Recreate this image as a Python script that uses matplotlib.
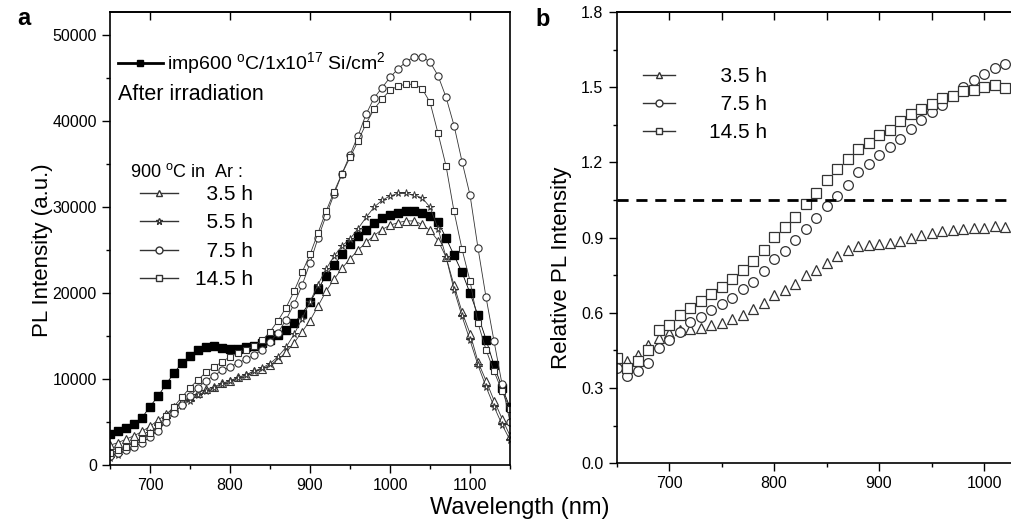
import numpy as np
import matplotlib
matplotlib.use("Agg")
import matplotlib.pyplot as plt
from matplotlib.lines import Line2D
from matplotlib.ticker import MultipleLocator, FormatStrFormatter

# ---------------- data (panel a) ----------------
wl_a = np.arange(650, 1151, 10)

imp600 = [3600, 3900, 4300, 4800, 5500, 6800, 8000, 9400, 10700, 11900,
          12700, 13400, 13750, 13850, 13650, 13550, 13550, 13700, 13800, 14200,
          14600, 15100, 15700, 16500, 17600, 19000, 20500, 22000, 23300, 24500,
          25700, 26600, 27400, 28200, 28700, 29100, 29350, 29550, 29550, 29350,
          29000, 28300, 26400, 24400, 22400, 20000, 17400, 14600, 11600, 9000, 6700]

h35 = [2300, 2600, 3000, 3400, 3900, 4500, 5200, 5900, 6700, 7400,
       7900, 8400, 8800, 9100, 9500, 9800, 10200, 10500, 10900, 11200,
       11600, 12300, 13100, 14200, 15500, 16800, 18500, 20200, 21600, 22900,
       24000, 25000, 25900, 26700, 27400, 27900, 28200, 28400, 28400, 28000,
       27300, 26100, 24200, 20900, 17800, 15300, 12000, 9800, 7500, 5400, 3400]

h55 = [800, 1200, 1700, 2300, 2900, 3700, 4500, 5300, 6100, 6900,
       7500, 8100, 8600, 9000, 9400, 9800, 10100, 10500, 10900, 11300,
       11800, 12600, 13700, 15200, 17000, 19000, 21000, 22800, 24300, 25500,
       26300, 27500, 28800, 30000, 30800, 31300, 31600, 31600, 31400, 31100,
       30000, 27500, 24200, 20400, 17300, 14500, 11600, 9100, 6800, 4700, 2900]

h75 = [1100, 1400, 1700, 2100, 2600, 3200, 4000, 5000, 6000, 7000,
       8000, 9000, 9800, 10400, 11000, 11400, 11900, 12300, 12800, 13400,
       14300, 15400, 16900, 18700, 20900, 23500, 26400, 29000, 31500, 33900,
       36100, 38300, 40800, 42700, 43900, 45100, 46100, 46900, 47500, 47500,
       46900, 45300, 42800, 39500, 35300, 31400, 25200, 19500, 14400, 9400, 5000]

h145 = [1400, 1700, 2100, 2600, 3000, 3700, 4600, 5700, 6800, 7900,
        9000, 9900, 10800, 11400, 12000, 12600, 13000, 13400, 13900, 14500,
        15500, 16800, 18300, 20200, 22400, 24500, 27000, 29500, 31800, 33900,
        35800, 37700, 39700, 41400, 42600, 43600, 44100, 44300, 44300, 43800,
        42200, 38600, 34800, 29500, 25100, 21400, 16500, 13400, 10900, 8600, 6500]

# ---------------- data (panel b) ----------------
wl_b = np.arange(650, 1021, 10)

rel35 = [0.40, 0.41, 0.43, 0.47, 0.50, 0.52, 0.53, 0.535, 0.54, 0.55,
         0.56, 0.575, 0.59, 0.615, 0.64, 0.67, 0.69, 0.715, 0.75, 0.77,
         0.80, 0.825, 0.85, 0.865, 0.87, 0.875, 0.877, 0.888, 0.90, 0.912,
         0.918, 0.925, 0.932, 0.935, 0.937, 0.94, 0.948, 0.942]

rel75 = [0.38, 0.35, 0.37, 0.40, 0.46, 0.49, 0.525, 0.565, 0.585, 0.61,
         0.635, 0.66, 0.695, 0.725, 0.765, 0.815, 0.845, 0.89, 0.935, 0.98,
         1.025, 1.067, 1.11, 1.16, 1.195, 1.23, 1.26, 1.295, 1.335, 1.37,
         1.40, 1.43, 1.465, 1.50, 1.528, 1.553, 1.575, 1.593]

rel145 = [0.42, 0.38, 0.41, 0.45, 0.53, 0.55, 0.59, 0.62, 0.646, 0.675,
          0.704, 0.735, 0.77, 0.806, 0.85, 0.904, 0.944, 0.984, 1.033, 1.08,
          1.13, 1.173, 1.213, 1.253, 1.277, 1.309, 1.33, 1.366, 1.393, 1.413,
          1.433, 1.456, 1.466, 1.486, 1.49, 1.50, 1.507, 1.496]

threshold = 1.05

# ---------------- style ----------------
plt.rcParams["font.family"] = ["Liberation Sans", "DejaVu Sans"]
plt.rcParams["mathtext.fontset"] = "custom"
plt.rcParams["mathtext.rm"] = "Liberation Sans"
plt.rcParams["axes.linewidth"] = 1.2
plt.rcParams["xtick.labelsize"] = 11.5
plt.rcParams["ytick.labelsize"] = 11.5

fig = plt.figure(figsize=(10.11, 5.26), dpi=100)
ax1 = fig.add_axes([0.1088, 0.116, 0.3957, 0.861])
ax2 = fig.add_axes([0.6098, 0.1192, 0.3932, 0.858])

ec = "#333333"

# panel a
ax1.plot(wl_a, imp600, color="black", lw=0.6, marker="s", ms=5.2, mfc="black", mec="black")
ax1.plot(wl_a, h35, color=ec, lw=0.6, marker="^", ms=5.2, mfc="white", mec=ec, mew=0.8)
ax1.plot(wl_a, h55, color=ec, lw=0.6, marker="*", ms=5.5, mfc="white", mec=ec, mew=0.7)
ax1.plot(wl_a, h75, color=ec, lw=0.6, marker="o", ms=5.2, mfc="white", mec=ec, mew=0.8)
ax1.plot(wl_a, h145, color=ec, lw=0.6, marker="s", ms=5.0, mfc="white", mec=ec, mew=0.8)

ax1.set_xlim(650, 1150)
ax1.set_ylim(0, 52700)
ax1.xaxis.set_major_locator(MultipleLocator(100))
ax1.xaxis.set_minor_locator(MultipleLocator(50))
ax1.yaxis.set_major_locator(MultipleLocator(10000))
ax1.yaxis.set_minor_locator(MultipleLocator(5000))
ax1.tick_params(which="major", direction="out", length=6, width=1)
ax1.tick_params(which="minor", direction="out", length=3, width=1)
top1 = ax1.secondary_xaxis("top")
top1.set_xticks([700, 800, 900, 1000, 1100])
top1.tick_params(direction="in", length=6, width=1, labeltop=False)

leg_imp = ax1.legend(handles=[Line2D([], [], color="black", lw=2, marker="s", ms=5)],
                     labels=["imp600 $^{\\rm o}$C/1x10$^{17}$ Si/cm$^{2}$"],
                     loc="upper left", bbox_to_anchor=(0.02, 0.915), frameon=False,
                     fontsize=14, handlelength=2.3, handletextpad=0.2,
                     borderpad=0, borderaxespad=0)
ax1.add_artist(leg_imp)
ax1.text(0.02, 0.817, "After irradiation", transform=ax1.transAxes,
         fontsize=15.5, va="center", ha="left")
ax1.text(0.05, 0.647, "900 $^{\\rm o}$C in  Ar :", transform=ax1.transAxes,
         fontsize=13, va="center", ha="left")

h_a = [Line2D([], [], color=ec, lw=1, marker="^", ms=5, mfc="white", mec=ec),
       Line2D([], [], color=ec, lw=1, marker="*", ms=5, mfc="white", mec=ec),
       Line2D([], [], color=ec, lw=1, marker="o", ms=5, mfc="white", mec=ec),
       Line2D([], [], color=ec, lw=1, marker="s", ms=5, mfc="white", mec=ec)]
ax1.legend(handles=h_a, labels=["  3.5 h", "  5.5 h", "  7.5 h", "14.5 h"],
           loc="upper left", bbox_to_anchor=(0.075, 0.618), frameon=False,
           fontsize=15, handlelength=1.8, handletextpad=0.85, labelspacing=0.45,
           borderpad=0, borderaxespad=0)

# panel b
ax2.plot(wl_b, rel35, ls="none", marker="^", ms=7, mfc="white", mec=ec, mew=0.9)
ax2.plot(wl_b, rel75, ls="none", marker="o", ms=7, mfc="white", mec=ec, mew=0.9)
ax2.plot(wl_b, rel145, ls="none", marker="s", ms=6.5, mfc="white", mec=ec, mew=0.9)
ax2.axhline(threshold, color="black", lw=2, dashes=(4, 2.8))

ax2.set_xlim(650, 1028.6)
ax2.set_ylim(0, 1.8)
ax2.xaxis.set_major_locator(MultipleLocator(100))
ax2.xaxis.set_minor_locator(MultipleLocator(50))
ax2.yaxis.set_major_locator(MultipleLocator(0.3))
ax2.yaxis.set_minor_locator(MultipleLocator(0.15))
ax2.yaxis.set_major_formatter(FormatStrFormatter("%.1f"))
ax2.tick_params(which="major", direction="out", length=6, width=1)
ax2.tick_params(which="minor", direction="out", length=3, width=1)
top2 = ax2.secondary_xaxis("top")
top2.set_xticks([700, 750, 800, 850, 900, 950, 1000])
top2.tick_params(direction="in", length=6, width=1, labeltop=False)

h_b = [Line2D([], [], color=ec, lw=1, marker="^", ms=5, mfc="white", mec=ec),
       Line2D([], [], color=ec, lw=1, marker="o", ms=5, mfc="white", mec=ec),
       Line2D([], [], color=ec, lw=1, marker="s", ms=5, mfc="white", mec=ec)]
ax2.legend(handles=h_b, labels=["  3.5 h", "  7.5 h", "14.5 h"],
           loc="upper left", bbox_to_anchor=(0.067, 0.878), frameon=False,
           fontsize=15, handlelength=1.55, handletextpad=1.6, labelspacing=0.43,
           borderpad=0, borderaxespad=0)

# labels
fig.text(0.514, 0.034, "Wavelength (nm)", fontsize=17, ha="center", va="center")
fig.text(0.042, 0.525, "PL Intensity (a.u.)", fontsize=16, rotation=90, ha="center", va="center")
fig.text(0.555, 0.49, "Relative PL Intensity", fontsize=16, rotation=90, ha="center", va="center")
fig.text(0.024, 0.965, "a", fontsize=17, fontweight="bold", ha="center", va="center")
fig.text(0.537, 0.962, "b", fontsize=17, fontweight="bold", ha="center", va="center")

fig.savefig("out.png", dpi=100)
